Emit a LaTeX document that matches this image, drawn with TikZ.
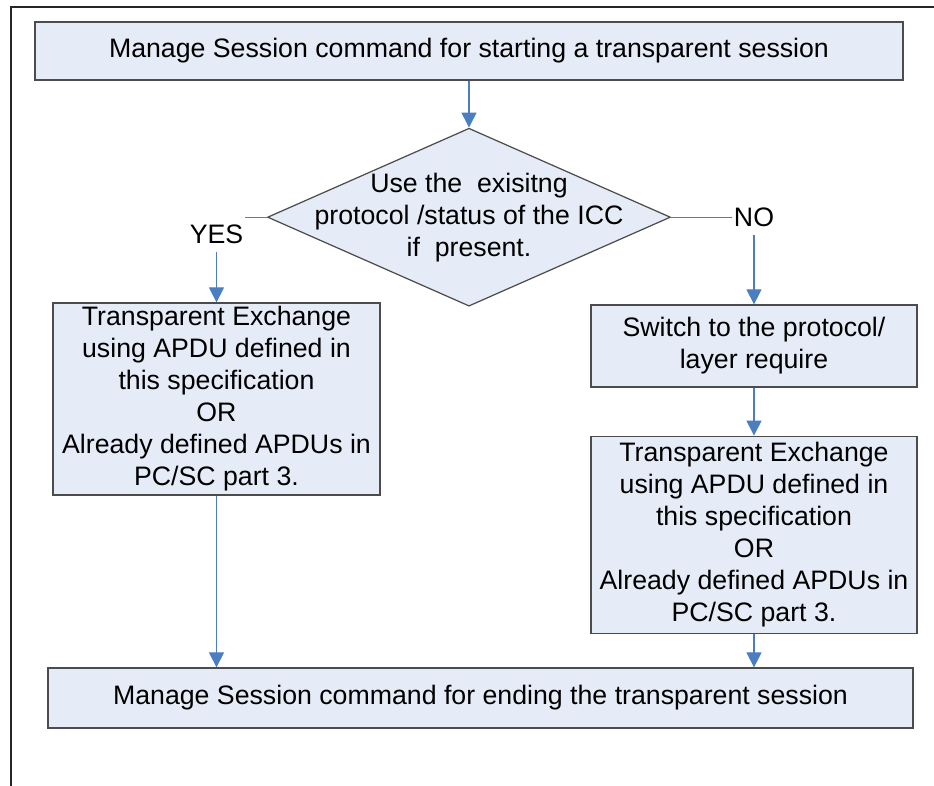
\documentclass[tikz,border=0pt]{standalone}
\usepackage{fontspec}
\setmainfont{Liberation Sans}
\usetikzlibrary{shapes.geometric,arrows.meta,positioning}
\definecolor{boxfill}{RGB}{230,236,247}
\definecolor{flowblue}{RGB}{74,126,193}

\begin{document}
\begin{tikzpicture}[
    x=0.02cm, y=-0.02cm,
    every node/.style={font=\fontsize{15.2}{18.2}\selectfont},
    block/.style={rectangle, draw=black!70, fill=boxfill, align=center, inner sep=0pt, line width=0.7pt},
    decision/.style={diamond, draw=black!70, fill=boxfill, inner sep=0pt, line width=0.7pt, minimum width=8.06cm, minimum height=3.56cm},
    line/.style={draw=flowblue, line width=0.6pt, -{Triangle[width=8.5pt,length=8.5pt]}},
    answer/.style={fill=white, inner xsep=1pt, inner ysep=4.5pt},
    frame/.style={draw=black!85, line width=1.1pt}
  ]
    \useasboundingbox (0,0) rectangle (934,786);
    \draw [frame] (11,786) -- (11,7) -- (934,7);

    \node [block, minimum width=17.36cm, minimum height=1.16cm] (start) at (469,51)
      {Manage Session command for starting a transparent session};
    \node [decision, below=0.94cm of start] (check) {};
    \node [align=center] at (check) {Use the\ \ exisitng\\protocol /status of the ICC\\if\ \ present.};
    \node [block, minimum width=6.54cm, minimum height=3.84cm] (yesbox) at (216.5,399)
      {Transparent Exchange\\using APDU defined in\\this specification\\OR\\Already defined APDUs in\\PC/SC part 3.};
    \node [block, minimum width=6.52cm, minimum height=1.64cm] (switch) at (754,346)
      {Switch to the protocol/\\layer require};
    \node [block, minimum width=6.52cm, minimum height=3.94cm, below=0.96cm of switch] (nobox)
      {Transparent Exchange\\using APDU defined in\\this specification\\OR\\Already defined APDUs in\\PC/SC part 3.};
    \node [block, minimum width=17.3cm, minimum height=1.2cm] (finish) at (480.5,698)
      {Manage Session command for ending the transparent session};

    \path [line] (start) -- (check);
    \path [line] (check.west) -| node [answer, pos=0.603] {YES} (yesbox.north);
    \path [line] (check.east) -| node [answer, pos=0.5] {NO} (switch.north);
    \path [line] (switch) -- (nobox);
    \path [line] (yesbox.south) -- (yesbox.south |- finish.north);
    \path [line] (nobox.south) -- (nobox.south |- finish.north);
\end{tikzpicture}
\end{document}
